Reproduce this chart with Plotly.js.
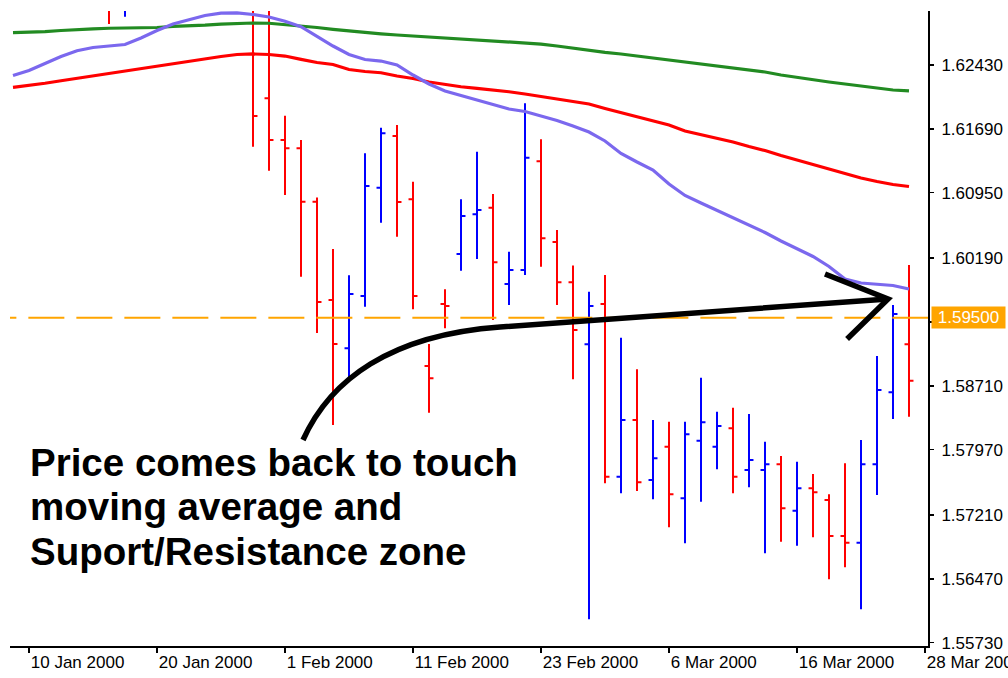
<!DOCTYPE html>
<html>
<head>
<meta charset="utf-8">
<script src="https://cdn.plot.ly/plotly-3.0.1.min.js"></script>
<style>
  html, body { margin: 0; padding: 0; background: #ffffff; }
  #chart { width: 1008px; height: 678px; }
</style>
</head>
<body>
<div id="chart"></div>
<script>
// ---- categories (trading days shown on the axis) ----
const dates = [
  '2000-01-07','2000-01-10','2000-01-11','2000-01-12','2000-01-13','2000-01-14',
  '2000-01-17','2000-01-18','2000-01-19','2000-01-20','2000-01-21',
  '2000-01-24','2000-01-25','2000-01-26','2000-01-27','2000-01-28',
  '2000-01-31','2000-02-01','2000-02-02','2000-02-03','2000-02-04',
  '2000-02-07','2000-02-08','2000-02-09','2000-02-10','2000-02-11',
  '2000-02-14','2000-02-15','2000-02-16','2000-02-17','2000-02-18',
  '2000-02-21','2000-02-22','2000-02-23','2000-02-24','2000-02-25',
  '2000-02-28','2000-02-29','2000-03-01','2000-03-02','2000-03-03',
  '2000-03-06','2000-03-07','2000-03-08','2000-03-09','2000-03-10',
  '2000-03-13','2000-03-14','2000-03-15','2000-03-16','2000-03-17',
  '2000-03-20','2000-03-21','2000-03-22','2000-03-23','2000-03-24',
  '2000-03-27','2000-03-28'
];

// ---- OHLC bars (visible part of the chart) ----
const barDates = [
  '2000-01-17','2000-01-18','2000-01-28','2000-01-31','2000-02-01','2000-02-02',
  '2000-02-03','2000-02-04','2000-02-07','2000-02-08','2000-02-09','2000-02-10',
  '2000-02-11','2000-02-14','2000-02-15','2000-02-16','2000-02-17','2000-02-18',
  '2000-02-21','2000-02-22','2000-02-23','2000-02-24','2000-02-25','2000-02-28',
  '2000-02-29','2000-03-01','2000-03-02','2000-03-03','2000-03-06','2000-03-07',
  '2000-03-08','2000-03-09','2000-03-10','2000-03-13','2000-03-14','2000-03-15',
  '2000-03-16','2000-03-17','2000-03-20','2000-03-21','2000-03-22','2000-03-23',
  '2000-03-24','2000-03-27'
];
const barOpen = [
  1.6352, 1.6312, 1.6335, 1.62044, 1.61560, 1.61464,
  1.60845, 1.59705, 1.59145, 1.59751, 1.61007, 1.61607,
  1.60873, 1.58939, 1.59658, 1.60238, 1.60699, 1.60775,
  1.59890, 1.60053, 1.61313, 1.60377, 1.59910, 1.59191,
  1.59658, 1.57656, 1.58313, 1.57617, 1.58003, 1.57405,
  1.58073, 1.58003, 1.58217, 1.57733, 1.57733, 1.57799,
  1.57261, 1.57521, 1.57385, 1.56968, 1.56890, 1.57799,
  1.58634, 1.59191
];
const barHigh = [
  1.6365, 1.6348, 1.6342, 1.6318, 1.61842, 1.61560,
  1.60893, 1.60296, 1.59991, 1.61406, 1.61703, 1.61734,
  1.61077, 1.59194, 1.59829, 1.60873, 1.61425, 1.60934,
  1.60265, 1.61986, 1.61568, 1.60517, 1.60105, 1.59801,
  1.59995, 1.59268, 1.58901, 1.58313, 1.58293, 1.58293,
  1.58804, 1.58409, 1.58456, 1.58383, 1.58061, 1.57896,
  1.57830, 1.57687, 1.57451, 1.57811, 1.58081, 1.59055,
  1.59647, 1.60111
];
const barLow = [
  1.62905, 1.62990, 1.61483, 1.61204, 1.60922, 1.59975,
  1.59322, 1.58255, 1.58800, 1.59627, 1.60601, 1.60439,
  1.59597, 1.58398, 1.59377, 1.60045, 1.60180, 1.59473,
  1.59647, 1.59995, 1.60091, 1.59647, 1.58786, 1.56002,
  1.57579, 1.57463, 1.57490, 1.57393, 1.57069, 1.56883,
  1.57366, 1.57741, 1.57463, 1.57533, 1.56767, 1.56902,
  1.56855, 1.56953, 1.56466, 1.56605, 1.56118, 1.57443,
  1.58325, 1.58351
];
const barClose = [
  1.6320, 1.6338, 1.61839, 1.61560, 1.61464, 1.60845,
  1.59682, 1.59194, 1.59774, 1.61027, 1.61638, 1.60841,
  1.59751, 1.58797, 1.59635, 1.60679, 1.60748, 1.60142,
  1.60053, 1.61355, 1.60420, 1.59910, 1.59357, 1.59635,
  1.57656, 1.58313, 1.57591, 1.57869, 1.57451, 1.58147,
  1.58286, 1.58244, 1.57656, 1.57849, 1.57799, 1.57289,
  1.57521, 1.57475, 1.56968, 1.56890, 1.57799, 1.58661,
  1.59542, 1.58769
];

// ---- moving averages (one value per day, 7 Jan .. 27 Mar) ----
const maDates = dates.slice(0, 57);
const maSlow = [ // green
  1.62805, 1.62807, 1.62818, 1.62830, 1.62842, 1.62850, 1.62856, 1.62856, 1.62856, 1.62865,
  1.62877, 1.62882, 1.62892, 1.62905, 1.62915, 1.62917, 1.62914, 1.62900, 1.62882, 1.62865,
  1.62844, 1.62824, 1.62805, 1.62792, 1.62778, 1.62766, 1.62751, 1.62740, 1.62728, 1.62712,
  1.62700, 1.62691, 1.62682, 1.62673, 1.62650, 1.62624, 1.62598, 1.62577, 1.62558, 1.62534,
  1.62511, 1.62488, 1.62465, 1.62442, 1.62413, 1.62389, 1.62366, 1.62349, 1.62314, 1.62285,
  1.62256, 1.62233, 1.62210, 1.62187, 1.62163, 1.62140, 1.62129
];
const maMid = [ // red
  1.62171, 1.62192, 1.62218, 1.62247, 1.62276, 1.62302, 1.62334, 1.62360, 1.62392, 1.62421,
  1.62450, 1.62476, 1.62505, 1.62529, 1.62552, 1.62558, 1.62552, 1.62534, 1.62496, 1.62459,
  1.62436, 1.62378, 1.62355, 1.62340, 1.62302, 1.62273, 1.62233, 1.62204, 1.62178, 1.62158,
  1.62140, 1.62120, 1.62094, 1.62065, 1.62036, 1.62007, 1.61978, 1.61926, 1.61879, 1.61827,
  1.61781, 1.61734, 1.61665, 1.61624, 1.61583, 1.61537, 1.61485, 1.61438, 1.61380, 1.61328,
  1.61270, 1.61218, 1.61166, 1.61120, 1.61079, 1.61044, 1.61021
];
const maFast = [ // purple
  1.62308, 1.62366, 1.62447, 1.62529, 1.62596, 1.62633, 1.62650, 1.62668, 1.62743, 1.62830,
  1.62905, 1.62958, 1.63004, 1.63031, 1.63035, 1.63016, 1.62987, 1.62937, 1.62874, 1.62763,
  1.62650, 1.62552, 1.62494, 1.62476, 1.62430, 1.62314, 1.62210, 1.62129, 1.62076, 1.62032,
  1.61978, 1.61920, 1.61891, 1.61839, 1.61786, 1.61723, 1.61653, 1.61549, 1.61404, 1.61305,
  1.61212, 1.61050, 1.60917, 1.60830, 1.60743, 1.60656, 1.60569, 1.60487, 1.60389, 1.60296,
  1.60209, 1.60093, 1.59948, 1.59902, 1.59884, 1.59873, 1.59832
];

// ---- level, ticks and notes ----
const supportLevel = 1.595;
const supportLabel = '1.59500';
const yTickVals = [1.6243, 1.6169, 1.6095, 1.6019, 1.5945, 1.5871, 1.5797, 1.5721, 1.5647, 1.5573];
const yTickText = ['1.62430', '1.61690', '1.60950', '1.60190', '', '1.58710', '1.57970', '1.57210', '1.56470', '1.55730'];
const xTickVals = ['2000-01-10','2000-01-20','2000-02-01','2000-02-11','2000-02-23','2000-03-06','2000-03-16','2000-03-28'];
const xTickText = ['10 Jan 2000','20 Jan 2000','1 Feb 2000','11 Feb 2000','23 Feb 2000','6 Mar 2000','16 Mar 2000','28 Mar 2000'];
const noteLines = ['Price comes back to touch', 'moving average and', 'Suport/Resistance zone'];

// hand-drawn arrow, in (category index, price)
const arrowCurve = [[18.125, 1.58081], [19.81, 1.58777], [23.56, 1.59299], [30.44, 1.59392], [54.69, 1.59716]];
const arrowHead = [[50.75, 1.60006], [54.69, 1.59716], [52.13, 1.59252]];

const pt = p => p[0] + ',' + p[1];
const curvePath = 'M' + pt(arrowCurve[0]) + ' C' + pt(arrowCurve[1]) + ' ' + pt(arrowCurve[2]) + ' ' +
                  pt(arrowCurve[3]) + ' L' + pt(arrowCurve[4]);
const headPath = 'M' + pt(arrowHead[0]) + ' L' + pt(arrowHead[1]) + ' L' + pt(arrowHead[2]);

const FONT = 'Liberation Sans, Arial, sans-serif';

const traces = [
  { type: 'scatter', mode: 'lines', x: maDates, y: maSlow, line: { color: '#228B22', width: 3.2 }, hoverinfo: 'skip' },
  { type: 'scatter', mode: 'lines', x: maDates, y: maMid, line: { color: '#FF0000', width: 3.2 }, hoverinfo: 'skip' },
  { type: 'scatter', mode: 'lines', x: maDates, y: maFast, line: { color: '#7B68EE', width: 3.2 }, hoverinfo: 'skip' },
  {
    type: 'ohlc', x: barDates, open: barOpen, high: barHigh, low: barLow, close: barClose,
    increasing: { line: { color: '#0000FF', width: 2 } },
    decreasing: { line: { color: '#FF0000', width: 2 } },
    tickwidth: 0.28, hoverinfo: 'skip'
  }
];

const yPaper = [0.2890, 0.2197, 0.1488];
const annotations = noteLines.map((t, i) => ({
  xref: 'paper', yref: 'paper', x: 0.0196, y: yPaper[i], xanchor: 'left', yanchor: 'middle',
  text: '<b>' + t + '</b>', showarrow: false,
  font: { family: FONT, size: 38.5, color: '#000000' }
}));
annotations.push({
  xref: 'paper', yref: 'y', x: 1, y: supportLevel, xanchor: 'left', yanchor: 'middle', xshift: 3,
  text: supportLabel, showarrow: false, bgcolor: '#FFA500', borderpad: 1, width: 71, height: 19,
  font: { family: FONT, size: 17, color: '#FFFFFF' }
});

const layout = {
  width: 1008, height: 678,
  margin: { l: 10, r: 80, t: 11, b: 32, pad: 0 },
  paper_bgcolor: '#FFFFFF', plot_bgcolor: '#FFFFFF',
  showlegend: false,
  font: { family: FONT, size: 17, color: '#000000' },
  xaxis: {
    type: 'category', categoryorder: 'array', categoryarray: dates,
    range: [-0.1875, 57.1875],
    showgrid: false, zeroline: false,
    showline: true, linecolor: '#000000', linewidth: 2,
    ticks: 'outside', ticklen: 5, tickwidth: 1.5, tickcolor: '#000000',
    tickvals: xTickVals, ticktext: xTickText, ticklabelposition: 'outside right',
    tickfont: { family: FONT, size: 17, color: '#000000' },
    rangeslider: { visible: false }, fixedrange: true
  },
  yaxis: {
    side: 'right', range: [1.556919, 1.630563],
    showgrid: false, zeroline: false,
    showline: true, linecolor: '#000000', linewidth: 2,
    ticks: 'outside', ticklen: 4, tickwidth: 1.5, tickcolor: '#000000',
    tickvals: yTickVals, ticktext: yTickText, ticklabelstandoff: 4,
    tickfont: { family: FONT, size: 17, color: '#000000' },
    fixedrange: true
  },
  shapes: [
    { type: 'line', xref: 'x', yref: 'y', x0: -2.04, x1: 58, y0: supportLevel, y1: supportLevel,
      line: { color: '#FFA500', width: 2, dash: '36px,12px' }, layer: 'above' },
    { type: 'path', xref: 'x', yref: 'y', path: curvePath, fillcolor: 'rgba(0,0,0,0)',
      line: { color: '#000000', width: 5.5 }, layer: 'above' },
    { type: 'path', xref: 'x', yref: 'y', path: headPath, fillcolor: 'rgba(0,0,0,0)',
      line: { color: '#000000', width: 5.5 }, layer: 'above' }
  ],
  annotations: annotations
};

Plotly.newPlot('chart', traces, layout, { staticPlot: true, displayModeBar: false });
</script>
</body>
</html>
